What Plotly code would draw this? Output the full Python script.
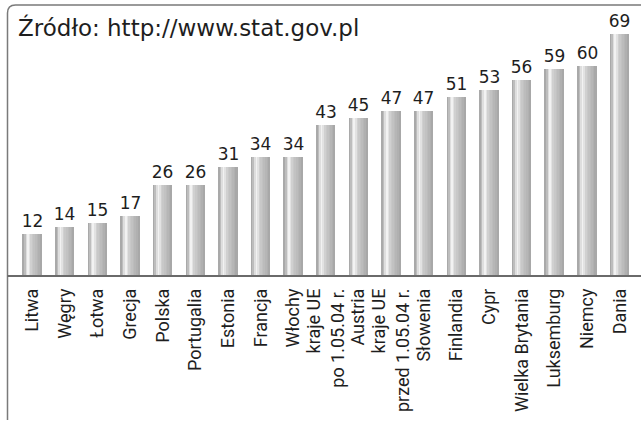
import plotly.graph_objects as go

categories = ["Litwa", "Węgry", "Łotwa", "Grecja", "Polska", "Portugalia", "Estonia",
              "Francja", "Włochy", "kraje UE<br>po 1.05.04 r.", "Austria",
              "kraje UE<br>przed 1.05.04 r.", "Słowenia", "Finlandia", "Cypr",
              "Wielka Brytania", "Luksemburg", "Niemcy", "Dania"]
values = [12, 14, 15, 17, 26, 26, 31, 34, 34, 43, 45, 47, 47, 51, 53, 56, 59, 60, 69]
title_text = "Źródło: http://www.stat.gov.pl"

# cylinder shading: stripe colours from left edge to right edge
stripe_colors = ["#a9a9a9", "#bdbdbd", "#dedede", "#f2f2f2", "#e2e2e2", "#d0d0d0",
                 "#c8c8c8", "#c2c2c2", "#bcbcbc", "#b6b6b6", "#b0b0b0", "#a8a8a8"]
bar_w = 0.58

W, H = 641, 421
ml, mr, mt, mb = 16, 5, 13, 145
pw = W - ml - mr
ph = H - mt - mb

fig = go.Figure()
n = len(stripe_colors)
sw = bar_w / n
for k, c in enumerate(stripe_colors):
    fig.add_trace(go.Bar(
        x=categories, y=values,
        width=sw * 1.15 if k < n - 1 else sw, offset=-bar_w / 2 + k * sw,
        marker=dict(color=c, line=dict(width=0)),
        hoverinfo="skip", showlegend=False,
    ))
# value labels
fig.add_trace(go.Bar(
    x=categories, y=values, width=bar_w,
    marker=dict(color="rgba(0,0,0,0)", line=dict(width=0)),
    text=[str(v) for v in values], textposition="outside", constraintext="none",
    textfont=dict(family="DejaVu Sans", size=17, color="#1e1e1e"),
    cliponaxis=False, showlegend=False,
))


def px_x(p):
    return (p - ml) / pw


def px_y(p):
    return (H - mb - p) / ph


frame_color = "#7a7a7a"
x0, ytop, ybot, xr = px_x(7.5), px_y(5), px_y(420), px_x(641)
rx, ry = 8 / pw, 8 / ph
path = (f"M {x0},{ybot} L {x0},{ytop - ry} Q {x0},{ytop} {x0 + rx},{ytop} "
        f"L {xr},{ytop}")
fig.add_shape(type="path", path=path, xref="paper", yref="paper",
              line=dict(color=frame_color, width=1.5))
fig.add_shape(type="line", xref="paper", yref="paper",
              x0=x0, x1=xr, y0=0, y1=0,
              line=dict(color="#6a6a6a", width=2))

fig.add_annotation(text=title_text, xref="paper", yref="paper",
                   x=px_x(16), y=px_y(27), xanchor="left", yanchor="middle",
                   showarrow=False,
                   font=dict(family="DejaVu Sans", size=23, color="#1e1e1e"))

fig.update_layout(
    width=W, height=H, margin=dict(l=ml, r=mr, t=mt, b=mb, autoexpand=False),
    barmode="overlay", bargap=0,
    paper_bgcolor="white", plot_bgcolor="white",
    xaxis=dict(type="category", tickangle=-90, showgrid=False, showline=False,
               range=[-0.5, len(categories) - 0.5], automargin=False,
               ticks="", ticklabelstandoff=8,
               tickfont=dict(family="Roboto", size=18, color="#1e1e1e")),
    yaxis=dict(range=[0, 75], visible=False, showgrid=False, automargin=False),
    showlegend=False,
)

fig.write_html("out.html", config={"displayModeBar": False},
               post_script="document.body.style.margin='0';"
                           "document.body.style.padding='0';"
                           "document.body.style.overflow='hidden';")
